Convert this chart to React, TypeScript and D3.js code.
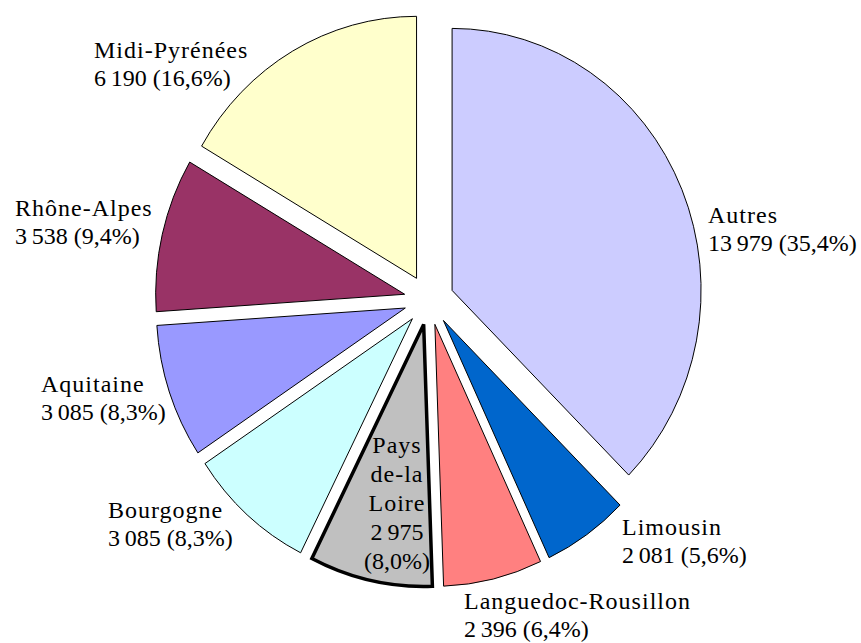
import * as d3 from 'd3';

// slices, clockwise from 12 o'clock
const regions = [
  'Autres',
  'Limousin',
  'Languedoc-Rousillon',
  'Pays de-la Loire',
  'Bourgogne',
  'Aquitaine',
  'Rhône-Alpes',
  'Midi-Pyrénées',
];
const counts = [13979, 2081, 2396, 2975, 3085, 3085, 3538, 6190];
const shares = ['35,4%', '5,6%', '6,4%', '8,0%', '8,3%', '8,3%', '9,4%', '16,6%'];

const colors = ['#ccccff', '#0066cc', '#ff8080', '#c0c0c0', '#ccffff', '#9999ff', '#993366', '#ffffcc'];

// where each label sits (left edge / centre, first baseline)
const labelLayout = [
  { x: 708, y: 223, anchor: 'start' },
  { x: 622, y: 535, anchor: 'start' },
  { x: 464, y: 609, anchor: 'start' },
  { x: 397, y: 453, anchor: 'middle' },
  { x: 108, y: 518, anchor: 'start' },
  { x: 41, y: 392, anchor: 'start' },
  { x: 15, y: 216, anchor: 'start' },
  { x: 94, y: 58, anchor: 'start' },
];

const W = 861;
const H = 643;
const cx = 429;
const cy = 300;
const rx = 249;
const ry = 262;
const explode = 25;

const fr = d3.formatLocale({ decimal: ',', thousands: '\u2009', grouping: [3], currency: ['', ''] });
const fmt = fr.format(',d');

const FONT = 'Liberation Serif, Times New Roman, DejaVu Serif, serif';

export default function App() {
  const pie = d3.pie<number>().sort(null).startAngle(0).endAngle(2 * Math.PI);
  const arcs = pie(counts);
  const arc = d3.arc<d3.PieArcDatum<number>>().innerRadius(0).outerRadius(ry);

  return (
    <svg width={W} height={H} style={{ display: 'block', position: 'absolute', left: 0, top: 0 }}>
      <rect width={W} height={H} fill="#fff" />
      {arcs.map((a, i) => {
        const mid = (a.startAngle + a.endAngle) / 2;
        const dx = explode * Math.sin(mid);
        const dy = -explode * Math.cos(mid);
        const thick = i === 3;
        return (
          <g key={regions[i]} transform={`translate(${cx + dx},${cy + dy}) scale(${rx / ry},1)`}>
            <path
              d={arc(a) ?? ''}
              fill={colors[i]}
              stroke="#000"
              strokeWidth={thick ? 3.5 : 1}
              strokeLinejoin="miter"
              vectorEffect="non-scaling-stroke"
            />
          </g>
        );
      })}
      {arcs.map((a, i) => {
        const pos = labelLayout[i];
        const num = fmt(counts[i]);
        const lines =
          i === 3
            ? [...regions[i].split(' '), num, `(${shares[i]})`]
            : [regions[i], `${num} (${shares[i]})`];
        const step = i === 3 ? 29 : 28;
        return (
          <text
            key={regions[i]}
            x={pos.x}
            y={pos.y}
            textAnchor={pos.anchor}
            fill="#000"
            style={{ fontFamily: FONT, fontSize: '24px' }}
          >
            {lines.map((l, j) => (
              <tspan key={j} x={pos.x} dy={j === 0 ? 0 : step} letterSpacing={/\d/.test(l) ? 0 : 1}>
                {l}
              </tspan>
            ))}
          </text>
        );
      })}
    </svg>
  );
}
